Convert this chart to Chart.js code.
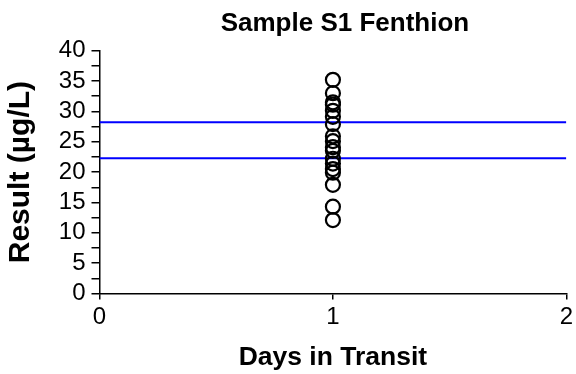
<!DOCTYPE html>
<html><head><meta charset="utf-8">
<script src="https://cdn.jsdelivr.net/npm/chart.js@4"></script>
<style>html,body{margin:0;padding:0;background:#fff}</style>
</head><body>
<canvas id="c" width="576" height="374"></canvas>
<script>
const chartTitle = 'Sample S1 Fenthion';
const xTitle = 'Days in Transit';
const yTitle = 'Result (µg/L)';
const days = [1,1,1,1,1,1,1,1,1,1,1,1,1,1,1,1,1,1];
const results = [35.2, 33.0, 31.5, 31.1, 30.1, 29.1, 27.9, 25.9, 25.1, 24.1, 23.5, 22.2, 21.4, 20.5, 19.9, 17.9, 14.3, 12.1];
const limitX = [0, 2];
const upperLimit = [28.2, 28.2];
const lowerLimit = [22.3, 22.3];
const xRange = [0, 2];
const yRange = [0, 40];

const pts = days.map((d, i) => ({x: d, y: results[i]}));
const up = limitX.map((x, i) => ({x, y: upperLimit[i]}));
const lo = limitX.map((x, i) => ({x, y: lowerLimit[i]}));
const FONT = '"Liberation Sans", Arial, sans-serif';

const shiftTitle = {
  id: 'shiftTitle',
  afterLayout(chart) {
    const t = chart.titleBlock;
    if (t) { t.left += 12; t.right += 12; }
  }
};

new Chart(document.getElementById('c'), {
  type: 'scatter',
  data: {
    datasets: [
      {data: pts, order: 0, pointStyle: 'circle', pointRadius: 7, pointBorderWidth: 2.2,
       borderColor: '#000', backgroundColor: 'rgba(0,0,0,0)', pointHoverRadius: 7},
      {type: 'line', data: up, order: 1, borderColor: '#0000ff', borderWidth: 2, pointRadius: 0, fill: false, tension: 0},
      {type: 'line', data: lo, order: 1, borderColor: '#0000ff', borderWidth: 2, pointRadius: 0, fill: false, tension: 0}
    ]
  },
  options: {
    responsive: false,
    devicePixelRatio: 1,
    animation: false,
    layout: {padding: {left: 0, right: 8.7, top: 0, bottom: 0}},
    plugins: {
      legend: {display: false},
      tooltip: {enabled: false},
      title: {display: true, text: chartTitle, color: '#000', fullSize: false,
        font: {family: FONT, size: 26, weight: 'bold'}, padding: {top: 8, bottom: 11.5}}
    },
    scales: {
      x: {
        type: 'linear', min: xRange[0], max: xRange[1],
        ticks: {stepSize: 1, autoSkip: false, color: '#000', font: {family: FONT, size: 24}, padding: 3, maxRotation: 0},
        grid: {drawOnChartArea: false, drawTicks: true, tickLength: 6, color: '#000', lineWidth: 1.5},
        border: {display: true, color: '#000', width: 1.5},
        title: {display: true, text: xTitle, color: '#000', font: {family: FONT, size: 26.5, weight: 'bold'}, padding: {top: 0, bottom: 0}},
        afterFit(s) { s.height = 80.5; }
      },
      y: {
        type: 'linear', min: yRange[0], max: yRange[1],
        ticks: {stepSize: 2.5, autoSkip: false, color: '#000', font: {family: FONT, size: 24}, padding: 6,
          callback: v => (v % 5 === 0 ? String(v) : '')},
        grid: {drawOnChartArea: false, drawTicks: true, tickLength: 8, color: '#000', lineWidth: 1.5},
        border: {display: true, color: '#000', width: 1.5},
        title: {display: true, text: yTitle, color: '#000', font: {family: FONT, size: 30, weight: 'bold'}, padding: {top: 3, bottom: 0}},
        afterFit(s) { s.width = 99.5; }
      }
    }
  },
  plugins: [shiftTitle]
});
</script>
</body></html>
